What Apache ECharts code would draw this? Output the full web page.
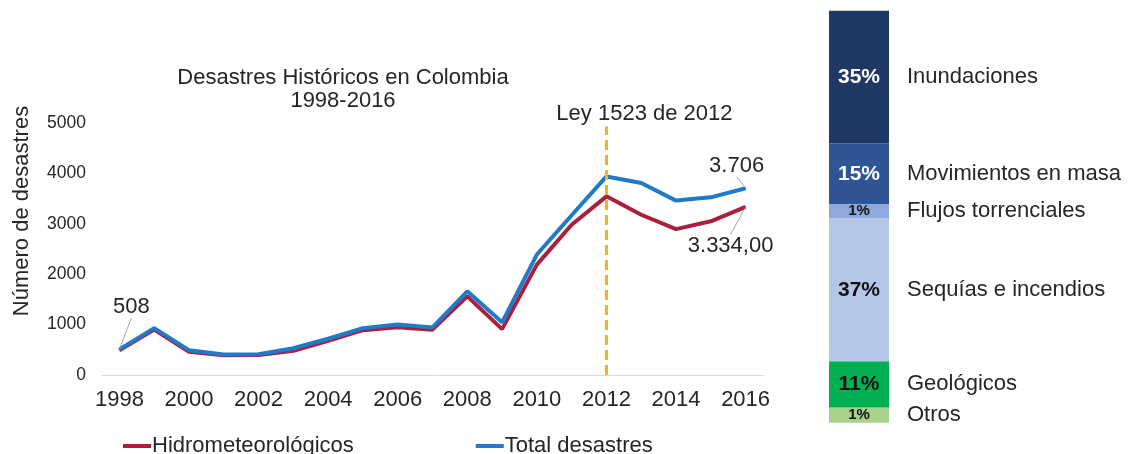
<!DOCTYPE html>
<html>
<head>
<meta charset="utf-8">
<script src="https://cdn.jsdelivr.net/npm/echarts@6/dist/echarts.min.js"></script>
<style>
html,body{margin:0;padding:0;background:#fff;}
#c{width:1131px;height:454px;}
</style>
</head>
<body>
<div id="c"></div>
<script>
// ---- data ----
var years = ['1998','1999','2000','2001','2002','2003','2004','2005','2006','2007','2008','2009','2010','2011','2012','2013','2014','2015','2016'];
var totalDesastres = [508, 930, 490, 405, 410, 530, 720, 930, 1000, 945, 1660, 1045, 2390, 3170, 3940, 3810, 3460, 3525, 3706];
var hidrometeorologicos = [490, 900, 460, 390, 395, 480, 680, 890, 945, 900, 1560, 910, 2190, 2980, 3545, 3180, 2895, 3050, 3334];
var yTicks = [0, 1000, 2000, 3000, 4000, 5000];
var leyYear = '2012';
var leyTop = 4930;

var tipoNombres = ['Inundaciones', 'Movimientos en masa', 'Flujos torrenciales', 'Sequías e incendios', 'Geológicos', 'Otros'];
var tipoPct = ['35%', '15%', '1%', '37%', '11%', '1%'];
var tipoSegmento = [32.2, 14.7, 3.5, 34.6, 11.2, 3.7]; // visible segment sizes
var tipoColores = ['#203864', '#2f5597', '#8eaadc', '#b4c7e7', '#00b050', '#a9d18e'];
var tipoTextColor = ['#ffffff', '#ffffff', '#111111', '#111111', '#111111', '#111111'];
var tipoPctSize = [21, 21, 15, 21, 21, 15];

var FONT = '"Liberation Sans", Arial, sans-serif';
var TXT = '#262626';

function labelled(arr, idx, fmt) {
  return arr.map(function (v, i) {
    if (idx.indexOf(i) >= 0) {
      return { value: v, label: { show: true, formatter: fmt[idx.indexOf(i)] } };
    }
    return v;
  });
}

// stacked from bottom (Otros) to top (Inundaciones)
var barSeries = [];
for (var k = tipoNombres.length - 1; k >= 0; k--) {
  (function (i) {
    barSeries.push({
      type: 'bar',
      name: tipoNombres[i],
      stack: 'tipos',
      xAxisIndex: 1,
      yAxisIndex: 1,
      barWidth: '100%',
      silent: true,
      data: [tipoSegmento[i]],
      itemStyle: { color: tipoColores[i] },
      label: {
        show: true,
        position: 'insideLeft',
        distance: 0,
        formatter: '{p|' + tipoPct[i] + '}{n|' + tipoNombres[i] + '}',
        rich: {
          p: { width: 60, align: 'center', fontFamily: FONT, fontWeight: 'bold', fontSize: tipoPctSize[i], color: tipoTextColor[i] },
          n: { padding: [0, 0, 0, 18], fontFamily: FONT, fontSize: 22, color: TXT }
        }
      }
    });
  })(k);
}

var chart = echarts.init(document.getElementById('c'));
var option = {
  animation: false,
  backgroundColor: '#ffffff',
  textStyle: { fontFamily: FONT },
  title: {
    text: 'Desastres Históricos en Colombia\n1998-2016',
    left: 338,
    top: 61,
    textAlign: 'center',
    textStyle: { fontFamily: FONT, fontSize: 22, fontWeight: 'normal', color: TXT, lineHeight: 23 }
  },
  legend: {
    data: ['Hidrometeorológicos', 'Total desastres'],
    left: 118,
    top: 430,
    icon: 'rect',
    itemWidth: 28,
    itemHeight: 4,
    itemGap: 122,
    textStyle: { fontFamily: FONT, fontSize: 22, color: TXT, padding: [0, 0, 0, -4] }
  },
  grid: [
    { left: 102, right: 368, top: 123, bottom: 79 },
    { left: 829, width: 60, top: 10.7, bottom: 31.3 }
  ],
  xAxis: [
    {
      type: 'category',
      data: years,
      gridIndex: 0,
      boundaryGap: true,
      axisTick: { show: false },
      axisLine: { lineStyle: { color: '#d9d9d9', width: 1 } },
      axisLabel: { interval: 1, fontFamily: FONT, fontSize: 22, color: TXT, margin: 14 }
    },
    { type: 'category', data: ['tipos'], gridIndex: 1, show: false }
  ],
  yAxis: [
    {
      type: 'value',
      gridIndex: 0,
      min: yTicks[0],
      max: yTicks[yTicks.length - 1],
      interval: 1000,
      splitLine: { show: false },
      axisLine: { show: false },
      axisTick: { show: false },
      axisLabel: { fontFamily: FONT, fontSize: 17.5, color: TXT, margin: 16, formatter: function (v) { return String(v); } },
      name: 'Número de desastres',
      nameLocation: 'middle',
      nameRotate: 90,
      nameGap: 69,
      nameTextStyle: { fontFamily: FONT, fontSize: 22, color: TXT, padding: [0, 0, 0, 76] }
    },
    { type: 'value', gridIndex: 1, min: 0, max: 99.9, show: false }
  ],
  series: [
    {
      type: 'line',
      name: 'Hidrometeorológicos',
      data: labelled(hidrometeorologicos, [18], ['3.334,00']),
      symbol: 'circle',
      symbolSize: 1,
      lineStyle: { color: '#ab1f3c', width: 4 },
      itemStyle: { color: '#ab1f3c' },
      label: { show: false, position: 'bottom', fontFamily: FONT, fontSize: 22, color: TXT },
      labelLine: { show: true, lineStyle: { color: '#a6a6a6', width: 1 } },
      labelLayout: function (p) { return p.dataIndex === 18 ? { dx: -15, dy: 22 } : {}; },
      z: 2
    },
    {
      type: 'line',
      name: 'Total desastres',
      data: labelled(totalDesastres, [0, 18], ['508', '3.706']),
      symbol: 'circle',
      symbolSize: 1,
      lineStyle: { color: '#1f7ac9', width: 4 },
      itemStyle: { color: '#1f7ac9' },
      label: { show: false, position: 'top', fontFamily: FONT, fontSize: 22, color: TXT },
      labelLine: { show: true, lineStyle: { color: '#a6a6a6', width: 1 } },
      labelLayout: function (p) {
        if (p.dataIndex === 0) return { dx: 12, dy: -26 };
        if (p.dataIndex === 18) return { dx: -9, dy: -6 };
        return {};
      },
      z: 3,
      markLine: {
        silent: true,
        symbol: 'none',
        lineStyle: { color: '#f5b418', type: [10, 5], width: 3 },
        label: {
          show: true,
          position: 'end',
          distance: 2,
          formatter: 'Ley 1523 de 2012',
          fontFamily: FONT,
          fontSize: 22,
          color: TXT,
          padding: [0, 0, 0, 76]
        },
        data: [[{ coord: [leyYear, 0] }, { coord: [leyYear, leyTop] }]]
      }
    }
  ].concat(barSeries)
};
chart.setOption(option);
</script>
</body>
</html>
